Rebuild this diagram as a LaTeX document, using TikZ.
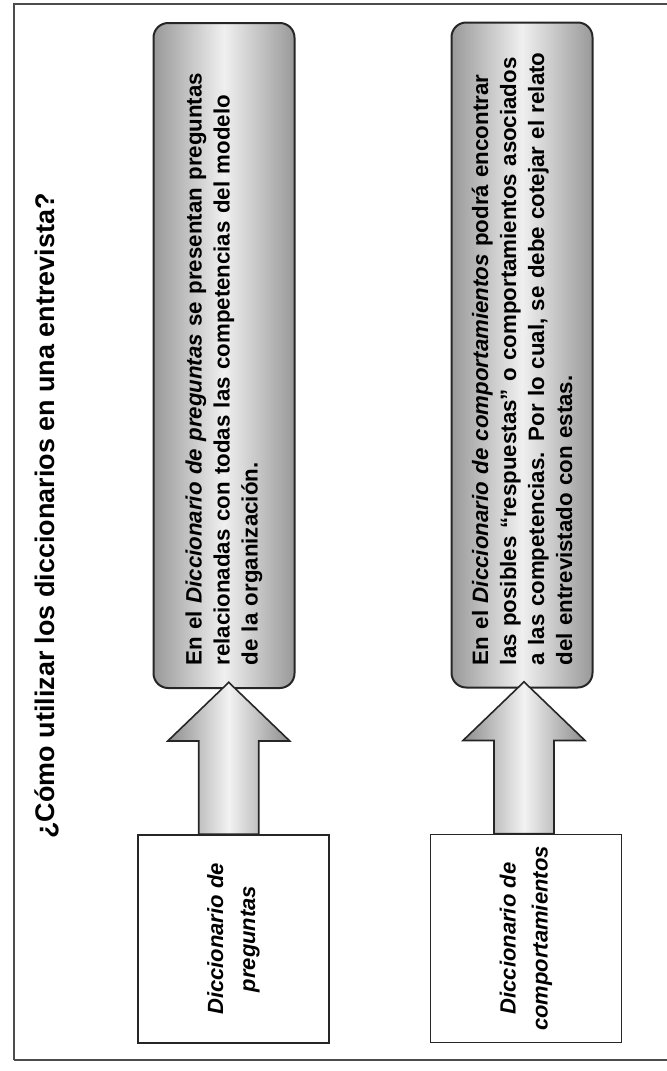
\documentclass[tikz,border=0pt]{standalone}
\usepackage{fontspec}
\setmainfont{Liberation Sans}
\usetikzlibrary{calc}

\begin{document}
\begin{tikzpicture}[x=0.75pt, y=-0.75pt,
  titulo/.style={rotate=90, inner sep=0pt, font=\bfseries\fontsize{20.2}{24}\selectfont},
  caja/.style={draw=black!85, line width=1.5pt, rounded corners=11pt,
    left color=black!40, right color=black!40, middle color=black!6,
    minimum width=105.75pt, minimum height=498.75pt, inner sep=0pt},
  texto/.style={rotate=90, text width=465pt, align=left, inner sep=0pt,
    font=\bfseries\fontsize{16.7}{21}\selectfont},
  dicc/.style={draw=black!85, line width=1.2pt, fill=white, rotate=90,
    minimum width=156pt, minimum height=143.25pt, align=center,
    font=\bfseries\itshape\fontsize{16.5}{24}\selectfont},
  flecha/.style={draw=black!85, line width=1.2pt,
    left color=black!45, right color=black!45, middle color=black!5},
  marco/.style={draw=black!70, line width=0.9pt}]
\useasboundingbox (0,0) rectangle (667,1071);

% Frame of the page
\draw[marco] (667,4) -- (14,4) -- (14,1060);
\draw[marco, line width=2pt] (14,1060) -- (667,1060);

% Title
\node[titulo, anchor=base] (titulo) at (54,516) {¿Cómo utilizar los diccionarios en una entrevista?};

% Shaded boxes
\node[caja] (preg) at (224,355.5) {};
\node[texto] (pregtxt) at (preg.center) {%
  En el \textit{Diccionario de preguntas} se presentan preguntas\\
  relacionadas con todas las competencias del modelo\\
  de la organización.};
\node[caja] (comp) at (522,355) {};
\node[texto] (comptxt) at (comp.center) {%
  En el \textit{Diccionario de comportamientos} podrá encontrar\\
  las posibles “respuestas” o comportamientos asociados\\
  a las competencias. Por lo cual, se debe cotejar el relato\\
  del entrevistado con estas.};

% Dictionaries
\node[dicc] (dic1) at (233.5,939) {Diccionario de\\preguntas};
\node[dicc] (dic2) at (526,938.5) {Diccionario de\\comportamientos};

% Block arrows
\draw[flecha] let \p1=($(dic1.east)!.5!(preg.south)$), \p2=(preg.south), \p3=(dic1.east) in
  (\x1-22.5pt,\y3) -- (\x1-22.5pt,\y2-39pt) -- (\x1-45.75pt,\y2-39pt) -- (\x1,\y2+5pt)
  -- (\x1+45.75pt,\y2-39pt) -- (\x1+22.5pt,\y2-39pt) -- (\x1+22.5pt,\y3) -- cycle;
\draw[flecha] let \p1=($(dic2.east)!.5!(comp.south)$), \p2=(comp.south), \p3=(dic2.east) in
  (\x1-22.5pt,\y3) -- (\x1-22.5pt,\y2-39pt) -- (\x1-45.75pt,\y2-39pt) -- (\x1,\y2+5pt)
  -- (\x1+45.75pt,\y2-39pt) -- (\x1+22.5pt,\y2-39pt) -- (\x1+22.5pt,\y3) -- cycle;
\end{tikzpicture}
\end{document}
